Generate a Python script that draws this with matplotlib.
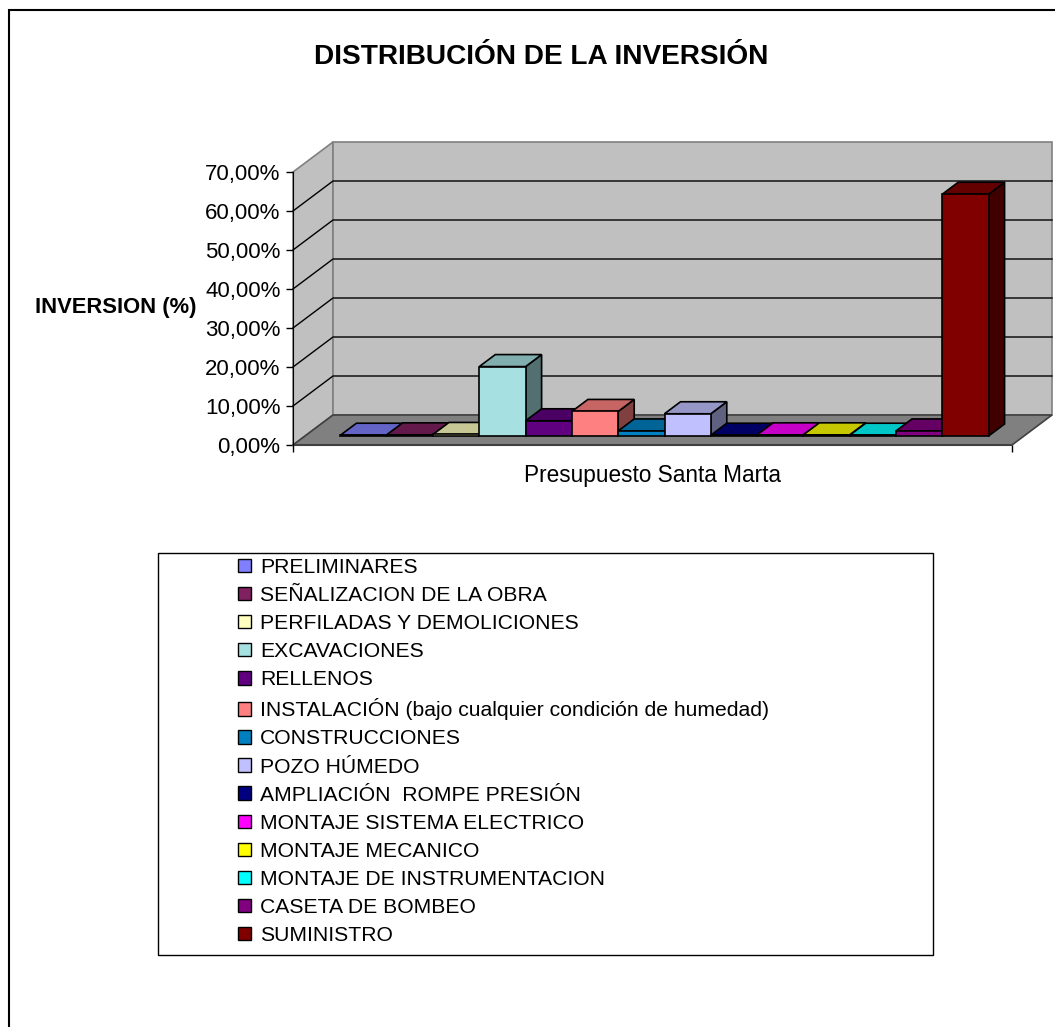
import matplotlib
matplotlib.use("Agg")
import matplotlib.pyplot as plt
from matplotlib.patches import Polygon, Rectangle, Patch
from matplotlib.colors import to_rgb
import numpy as np

categories = [
    "PRELIMINARES",
    "SEÑALIZACION DE LA OBRA",
    "PERFILADAS Y DEMOLICIONES",
    "EXCAVACIONES",
    "RELLENOS",
    "INSTALACIÓN (bajo cualquier condición de humedad)",
    "CONSTRUCCIONES",
    "POZO HÚMEDO",
    "AMPLIACIÓN  ROMPE PRESIÓN",
    "MONTAJE SISTEMA ELECTRICO",
    "MONTAJE MECANICO",
    "MONTAJE DE INSTRUMENTACION",
    "CASETA DE BOMBEO",
    "SUMINISTRO",
]
values = [0.2, 0.3, 0.4, 17.8, 3.9, 6.3, 1.3, 5.7, 0.2, 0.3, 0.3, 0.2, 1.3, 62.0]
colors = ["#8080ff", "#802060", "#ffffc0", "#a6e0e0", "#600080", "#ff8080", "#0080c0",
          "#c0c0ff", "#000080", "#ff00ff", "#ffff00", "#00ffff", "#800080", "#800000"]
category_label = "Presupuesto Santa Marta"
y_ticks = [0, 10, 20, 30, 40, 50, 60, 70]
y_tick_labels = ["0,00%", "10,00%", "20,00%", "30,00%", "40,00%", "50,00%", "60,00%", "70,00%"]

plt.rcParams["font.family"] = ["Liberation Sans", "DejaVu Sans"]

W, H = 1055, 1027
fig = plt.figure(figsize=(W / 100, H / 100), dpi=100)

# front plane of the plot area, in pixels
left, right, bottom, top = 293, 1012, 445, 172
ax = fig.add_axes([left / W, 1 - bottom / H, (right - left) / W, (bottom - top) / H])
ax.patch.set_visible(False)

gap = 0.765
xmax = len(values) + 2 * gap
ymax = y_ticks[-1]
ax.set_xlim(0, xmax)
ax.set_ylim(0, ymax)

# depth of the 3d box: 40 px right, 30 px up
dx = 40 * xmax / (right - left)
dy = 30 * ymax / (bottom - top)

wall = "#c0c0c0"
gray = "#808080"
ax.add_patch(Polygon([(0, 0), (dx, dy), (dx, ymax + dy), (0, ymax)],
                     fc=wall, ec=gray, lw=1.2, clip_on=False, zorder=0))
ax.add_patch(Polygon([(dx, dy), (xmax + dx, dy), (xmax + dx, ymax + dy), (dx, ymax + dy)],
                     fc=wall, ec=gray, lw=1.2, clip_on=False, zorder=0))
ax.add_patch(Polygon([(0, 0), (xmax, 0), (xmax + dx, dy), (dx, dy)],
                     fc=gray, ec="#404040", lw=1.2, clip_on=False, zorder=1))
for t in y_ticks[1:-1]:
    ax.plot([0, dx, xmax + dx], [t, t + dy, t + dy], color="black", lw=1, clip_on=False, zorder=1)

# bars sit between 30% and 70% of the depth
for i, (v, c) in enumerate(zip(values, colors)):
    x0 = gap + i + 0.3 * dx
    y0 = 0.3 * dy
    ddx, ddy = 0.4 * dx, 0.4 * dy
    rgb = np.array(to_rgb(c))
    z = 3 + i
    ax.add_patch(Polygon([(x0 + 1, y0), (x0 + 1 + ddx, y0 + ddy), (x0 + 1 + ddx, y0 + v + ddy), (x0 + 1, y0 + v)],
                         fc=rgb * 0.5, ec="black", lw=1.2, clip_on=False, zorder=z))
    ax.add_patch(Polygon([(x0, y0 + v), (x0 + 1, y0 + v), (x0 + 1 + ddx, y0 + v + ddy), (x0 + ddx, y0 + v + ddy)],
                         fc=rgb * 0.78, ec="black", lw=1.2, clip_on=False, zorder=z))
    ax.bar(x0, v, width=1, bottom=y0, align="edge", color=c, edgecolor="black", lw=1.2, zorder=z)

for s in ["top", "right"]:
    ax.spines[s].set_visible(False)
ax.spines["left"].set_zorder(20)
ax.spines["bottom"].set_color("#404040")
ax.spines["bottom"].set_linewidth(1.5)
ax.set_yticks(y_ticks, y_tick_labels)
ax.tick_params(axis="y", length=5, width=1, pad=4, labelsize=16)
ax.set_xticks([0, xmax], ["", ""])
ax.set_xticks([xmax / 2], [category_label], minor=True)
ax.tick_params(axis="x", which="major", length=5, width=1)
ax.tick_params(axis="x", which="minor", length=0, pad=14, labelsize=16.3)

fig.text(541 / W, 1 - 57 / H, "DISTRIBUCIÓN DE LA INVERSIÓN", ha="center", va="center",
         fontsize=20.2, fontweight="bold")
fig.text(116 / W, 1 - 307 / H, "INVERSION (%)", ha="center", va="center",
         fontsize=15.8, fontweight="bold")

# legend box and entries
fig.add_artist(Rectangle((158 / W, 1 - 955 / H), (933 - 158) / W, (955 - 553) / H,
                         transform=fig.transFigure, fc="white", ec="black", lw=1))
handles = [Patch(facecolor=c, edgecolor="black", lw=1) for c in colors]
fig.legend(handles, categories, loc="upper left", bbox_to_anchor=(238 / W, 1 - 558 / H),
           frameon=False, fontsize=15.2, borderpad=0, borderaxespad=0,
           handlelength=0.6, handleheight=0.6, handletextpad=0.45, labelspacing=0.43)

# outer chart border (cut off at right and bottom)
fig.add_artist(Rectangle((9 / W, -0.1), 1.2, 1.1 - 10 / H, transform=fig.transFigure,
                         fc="none", ec="black", lw=1.5))

fig.savefig("out.png", dpi=100)
